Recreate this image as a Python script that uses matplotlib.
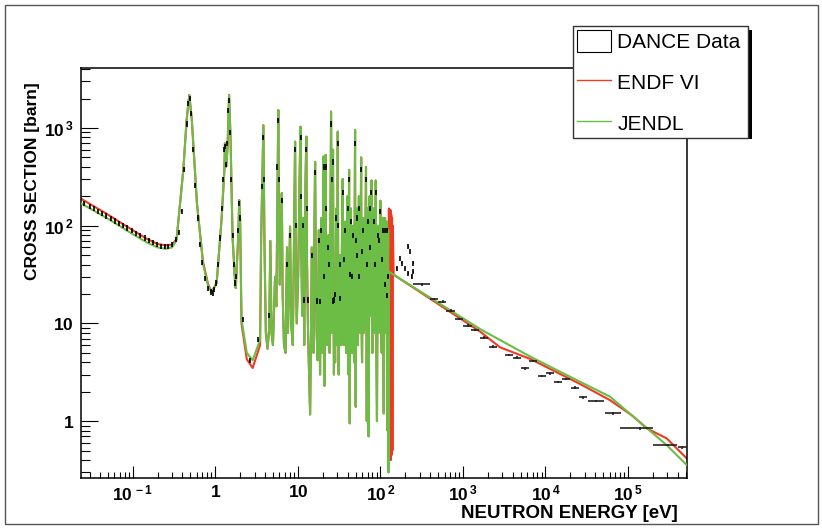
import numpy as np
import matplotlib.pyplot as plt
from matplotlib.patches import Rectangle, Patch
from matplotlib.lines import Line2D
from matplotlib.ticker import FixedLocator, FixedFormatter, NullFormatter

plt.rcParams['font.family'] = ['Liberation Sans', 'DejaVu Sans']
plt.rcParams['mathtext.fontset'] = 'custom'
plt.rcParams['mathtext.rm'] = 'Liberation Sans:bold'
plt.rcParams['mathtext.it'] = 'Liberation Sans:bold'
plt.rcParams['mathtext.bf'] = 'Liberation Sans:bold'

# thermal + first resonances, JENDL (eV, barn)
jendl_low_e = [0.0234, 0.05, 0.1, 0.15, 0.2, 0.25, 0.3, 0.34, 0.41, 0.45, 0.485, 0.52, 0.6, 0.71,
               0.82, 0.906, 1.04, 1.19, 1.29, 1.31, 1.36, 1.41, 1.47, 1.53, 1.62, 1.74, 1.77, 1.9,
               1.95, 2.0, 2.08, 2.41, 2.84, 3.49]
jendl_low_xs = [170, 118, 82, 67, 60, 58, 60, 71, 372, 1210, 2180, 1210, 170, 41,
                24, 21, 26, 114, 372, 697, 402, 642, 2180, 815, 77, 26, 23, 77,
                183, 114, 11, 5.0, 4.2, 6.8]
# same range, ENDF/B-VI
endf_low_e = [0.0234, 0.05, 0.1, 0.15, 0.2, 0.25, 0.3, 0.34, 0.41, 0.45, 0.485, 0.52, 0.6, 0.71,
              0.82, 0.906, 1.04, 1.19, 1.29, 1.31, 1.36, 1.41, 1.47, 1.53, 1.62, 1.74, 1.77, 1.9,
              1.95, 2.0, 2.08, 2.41, 2.84, 3.49]
endf_low_xs = [190, 130, 90, 73, 65, 63, 64, 73, 372, 1210, 2180, 1210, 170, 43,
               25, 21, 26, 114, 372, 697, 402, 642, 2180, 815, 77, 26, 23, 77,
               183, 114, 10, 4.3, 3.5, 6.0]

# resolved resonances, both evaluations overlap here (eV, barn)
res_e = [3.6, 3.83, 3.95, 4.1, 4.3, 4.5, 4.65, 4.8, 5.0, 5.3, 5.5, 5.7, 5.8, 5.9, 6.05, 6.25, 6.4,
         6.55, 6.8, 7.1, 7.4, 7.6, 7.9, 8.06, 8.3, 8.7, 9.1, 9.27, 9.45, 9.7, 10.1, 10.5, 10.8,
         11.0, 11.3, 11.7, 11.95, 12.4, 12.7, 12.9, 13.3, 13.7, 14.1, 14.6, 14.8, 15.1, 15.5,
         15.9, 16.2, 16.5, 16.9, 17.4, 17.8, 18.0, 18.3, 18.6, 19.0, 19.3, 19.6, 19.9, 20.2,
         20.5, 20.8, 21.0, 21.4, 21.7, 22.0, 22.5, 23.0, 23.5, 23.9, 24.3, 24.8, 25.3, 25.7,
         26.0, 26.4, 26.7, 27.0, 27.4, 27.8, 28.3, 28.8, 29.2, 29.5, 29.8, 30.2, 30.5, 30.9,
         31.3, 31.9, 32.5, 33.0, 33.5, 34.2, 35.0, 35.5, 36.0, 36.7, 37.4, 37.9, 38.5, 39.3,
         40.0, 40.5, 41.0, 41.4, 41.8, 42.2, 42.6, 43.3, 44.0, 44.7, 45.5, 46.2, 47.0, 47.5,
         48.0, 48.7, 49.4, 49.8, 50.3, 51.2, 52.0, 52.7, 53.5, 54.2, 55.0, 55.8, 56.8, 57.7,
         58.5, 59.2, 60.0, 61.0, 62.0, 63.0, 64.0, 65.5, 67.0, 67.8, 68.5, 69.2, 70.0, 71.0,
         72.0, 73.0, 74.0, 75.0, 76.0, 77.0, 78.0, 79.0, 80.0, 81.5, 83.0, 84.5, 86.0, 87.0,
         88.0, 89.5, 91.0, 92.5, 94.0, 95.5, 97.0, 98.5, 100.0, 102.0, 104.0, 105.5, 107.0,
         108.5, 110.0, 112.0, 114.0, 115.5, 117.0, 119.0, 120.5, 121.5, 122.5, 123.5]
res_xs = [77, 1070, 60, 8, 5.5, 9, 70, 8, 6, 30, 15, 300, 1527, 200, 25, 60, 216,
          20, 6, 5, 60, 8, 40, 98, 10, 6, 200, 725, 40, 10, 30, 300, 1030,
          60, 12, 120, 6, 300, 815, 50, 8, 3, 1.17, 20, 60, 7, 5,
          100, 450, 40, 8, 4.2, 40, 90, 12, 3, 30, 120, 15, 5, 90,
          510, 10, 2.3, 80, 530, 40, 6, 30, 80, 12, 5, 100, 1470, 60,
          8, 80, 600, 25, 3, 15, 4, 40, 150, 20, 6, 100, 917, 20,
          3, 20, 50, 10, 6, 60, 300, 15, 6, 40, 110, 10, 5, 50,
          200, 8, 3, 60, 372, 5, 0.95, 40, 150, 10, 5, 30, 100, 8,
          4, 80, 954, 8, 1.4, 30, 150, 8, 6, 40, 200, 15, 8, 60,
          500, 10, 4, 30, 120, 8, 10, 50, 400, 10, 1.0, 40, 150, 5,
          0.7, 50, 200, 15, 12, 80, 290, 10, 5, 40, 150, 10, 8, 60,
          290, 5, 1.0, 30, 100, 8, 10, 50, 180, 10, 5, 40, 120,
          5, 1.2, 30, 120, 8, 20, 60, 110, 4, 0.8, 40]

# JENDL above the resolved range
jendl_high_e = [124.5, 125.5, 127, 1633, 6590, 26240, 60500, 111000, 294000, 514000]
jendl_high_xs = [90, 0.3, 33.8, 8.71, 4.56, 2.53, 1.78, 1.15, 0.569, 0.356]
# ENDF/B-VI above the resolved range (dense band near 130 eV)
endf_high_e = [124.5, 125.5, 127, 128, 129.5, 131, 132.5, 134, 135.5, 137, 138.5, 140, 141.5,
               145, 1633, 2810, 6590, 26240, 60500, 111000, 170000, 294000, 514000]
endf_high_xs = [90, 0.3, 150, 0.45, 140, 0.42, 145, 0.4, 130, 0.45, 120, 0.5, 100,
                31.5, 8.2, 5.7, 4.32, 2.40, 1.64, 1.15, 0.84, 0.667, 0.416]

# DANCE data, resolved region (eV, barn)
dance_e = [0.026, 0.03, 0.034, 0.038, 0.043, 0.048, 0.054, 0.061, 0.068, 0.077, 0.086, 0.097,
           0.11, 0.124, 0.14, 0.157, 0.176, 0.197, 0.22, 0.245, 0.27, 0.3, 0.33, 0.36, 0.39,
           0.42, 0.45, 0.47, 0.49, 0.51, 0.54, 0.57, 0.61, 0.65, 0.7, 0.76, 0.82, 0.88, 0.93,
           0.97, 1.03, 1.09, 1.15, 1.2, 1.25, 1.29, 1.32, 1.36, 1.4, 1.44, 1.48, 1.52, 1.57,
           1.63, 1.68, 1.74, 1.8, 1.86, 1.92, 1.98, 2.16, 2.63, 3.32,
           3.7, 3.8, 3.9, 4.5, 5.6, 5.8, 5.95, 6.4, 7.5, 8.0, 9.2, 9.5, 10.8, 11.0, 11.6, 12.6,
           12.9, 14.8, 16.2, 17.0, 18.0, 19.3, 20.5, 21.7, 22.0, 23.5, 25.3, 25.6, 26.7, 27.0,
           28.0, 29.2, 30.5, 31.0, 32.5, 35.0, 37.4, 40.0, 41.8, 44.0, 47.0, 49.4, 50.0, 52.0,
           55.0, 58.5, 62.0, 67.0, 70.0, 74.0, 78.0, 83.0, 88.0, 94.0, 100.0, 107.0, 114.0, 122.0,
           12.0, 13.2, 18.6, 21.0, 24.0, 27.2, 32.8, 36.0, 43.0, 45.0, 52.5, 55.5, 60.0, 68.0,
           75.0, 85.0, 95.0, 105.0, 115.0, 120.0, 125.0,
           158, 173, 181, 199, 218, 229, 218, 240, 251, 251]
dance_xs = [169, 158, 149, 141, 133, 126, 119, 112, 106, 100, 95, 89,
            84, 79, 75, 71, 67, 64, 62, 61, 62, 65, 72, 85, 140,
            380, 1100, 1800, 2000, 1400, 600, 260, 120, 65, 42, 29, 23, 21, 20.5,
            22.5, 26, 40, 75, 150, 300, 600, 650, 420, 700, 1500, 1900, 900, 300,
            80, 40, 26, 30, 90, 170, 120, 11, 4.2, 6.8,
            250, 800, 300, 12, 400, 1200, 300, 180, 40, 80, 600, 100, 800, 200, 100, 600,
            150, 50, 350, 17, 70, 90, 400, 400, 150, 60, 1100, 300, 450, 17,
            20, 120, 700, 100, 40, 220, 90, 150, 300, 110, 80, 700, 70, 120,
            150, 380, 90, 300, 110, 150, 220, 110, 220, 80, 140, 90, 90, 90,
            17.4, 17.4, 16.7, 30, 40, 17.4, 18, 45, 31.5, 30, 50, 30, 55, 40,
            60, 40, 70, 45, 25, 19.5, 30,
            36.6, 46.4, 41.2, 36.6, 61, 54.2, 32.6, 30.1, 41.2, 33.8]

# DANCE data, binned region above 300 eV (eV, barn, bin edges)
dance_hi_e = [317, 447, 566, 711, 897, 1137, 1402, 1803, 2317, 3648, 4484, 5652, 7012, 9013,
              11360, 14310, 17750, 22800, 28770, 40950, 65300, 139600, 307000, 448000]
dance_hi_xs = [25.1, 17.8, 16.7, 13.5, 11.1, 9.47, 8.55, 7.14, 5.78, 4.75, 4.46, 3.47, 4.12, 2.90,
               3.09, 2.53, 2.70, 2.20, 1.75, 1.61, 1.20, 0.843, 0.569, 0.540]
dance_hi_lo = [249, 400, 505, 630, 800, 1010, 1250, 1600, 2050, 3250, 4000, 5050, 6250, 8050,
               10100, 12750, 15800, 20300, 25600, 33000, 52000, 80000, 201000, 404000]
dance_hi_hi = [399, 500, 630, 800, 1005, 1275, 1570, 2020, 2600, 4090, 5030, 6340, 7870, 10100,
               12750, 16050, 19900, 25600, 32300, 50800, 82000, 202000, 393000, 519000]

RED = '#ee3a22'
GREEN = '#6cbd45'

jendl_e = jendl_low_e + res_e + jendl_high_e
jendl_xs = jendl_low_xs + res_xs + jendl_high_xs
endf_e = endf_low_e + res_e + endf_high_e
endf_xs = endf_low_xs + res_xs + endf_high_xs

fig = plt.figure(figsize=(8.22, 5.29), dpi=100)
W, H = 822.0, 529.0
ax = fig.add_axes([80.7 / W, 1 - 478 / H, 606 / W, 410 / H])
ax.set_xscale('log')
ax.set_yscale('log')

ax.plot(endf_e, endf_xs, color=RED, lw=1.5, zorder=2)
ax.plot(jendl_e, jendl_xs, color=GREEN, lw=1.5, zorder=3)

de = np.array(dance_e)
dx = np.array(dance_xs)
ax.errorbar(de, dx, yerr=[dx * 0.06, dx * 0.06], xerr=[de * 0.012, de * 0.012],
            fmt='none', ecolor='black', elinewidth=1.2, zorder=4)
he = np.array(dance_hi_e)
hx = np.array(dance_hi_xs)
ax.errorbar(he, hx, yerr=[hx * 0.03, hx * 0.03],
            xerr=[he - np.array(dance_hi_lo), np.array(dance_hi_hi) - he],
            fmt='none', ecolor='#222222', elinewidth=1.2, zorder=4)

ax.set_xlim(0.02344, 514000)
ax.set_ylim(0.262, 4110)

xmaj = [0.1, 1, 10, 100, 1e3, 1e4, 1e5]
xlab = [r'$10^{\,-1}$', r'$1$', r'$10$', r'$10^{\,2}$', r'$10^{\,3}$', r'$10^{\,4}$', r'$10^{\,5}$']
ax.xaxis.set_major_locator(FixedLocator(xmaj))
ax.xaxis.set_major_formatter(FixedFormatter(xlab))
ax.xaxis.set_minor_locator(FixedLocator([m * 10.0 ** k for k in range(-2, 6) for m in range(2, 10)]))
ax.xaxis.set_minor_formatter(NullFormatter())
ymaj = [1, 10, 100, 1000]
ylab = [r'$1$', r'$10$', r'$10^{\,2}$', r'$10^{\,3}$']
ax.yaxis.set_major_locator(FixedLocator(ymaj))
ax.yaxis.set_major_formatter(FixedFormatter(ylab))
ax.yaxis.set_minor_locator(FixedLocator([m * 10.0 ** k for k in range(-1, 4) for m in range(2, 10)]))
ax.yaxis.set_minor_formatter(NullFormatter())

ax.tick_params(axis='x', which='major', direction='in', length=8.6, width=0.8, pad=4,
               labelsize=12.5, top=False)
ax.tick_params(axis='x', which='minor', direction='in', length=4, width=0.8, top=False)
ax.tick_params(axis='y', which='major', direction='in', length=12.5, width=0.8, pad=5,
               labelsize=12.5, right=False)
ax.tick_params(axis='y', which='minor', direction='in', length=6.5, width=0.8, right=False)
for s in ax.spines.values():
    s.set_linewidth(1.1)

fig.text(678 / W, 1 - 513 / H, 'NEUTRON ENERGY [eV]', ha='right', va='center',
         fontsize=13.5, fontweight='bold')
fig.text(33 / W, 1 - 82 / H, 'CROSS SECTION [barn]', ha='center', va='top', rotation=90,
         fontsize=12.5, fontweight='bold')

handles = [Patch(facecolor='white', edgecolor='black', linewidth=0.8),
           Line2D([], [], color=RED, lw=1),
           Line2D([], [], color=GREEN, lw=1)]
leg = ax.legend(handles, ['DANCE Data', 'ENDF VI', 'JENDL'], loc='upper left',
                bbox_to_anchor=(572.7 / W, 1 - 135 / H, 175 / W, 109 / H),
                bbox_transform=fig.transFigure, mode='expand', borderaxespad=0,
                fontsize=15, frameon=True, fancybox=False, edgecolor='#333333',
                framealpha=1, borderpad=0.2, handlelength=1.65, handleheight=1.25,
                handletextpad=0.3, labelspacing=0.9)
leg.get_frame().set_linewidth(1.0)
leg.set_zorder(6)
ax.add_patch(Rectangle((576.7 / W, 1 - 139 / H), 175 / W, 109 / H, transform=fig.transFigure,
                       facecolor='black', edgecolor='none', clip_on=False, zorder=5.5))

fig.add_artist(Rectangle((5 / W, 5 / H), 813 / W, 519 / H, transform=fig.transFigure,
                         facecolor='none', edgecolor='#555555', lw=1.0))

fig.savefig('out.png', dpi=100)
